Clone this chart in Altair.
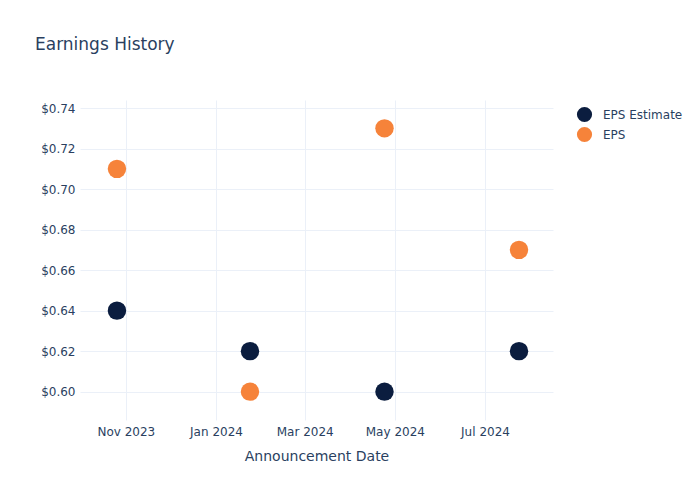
import altair as alt
import pandas as pd

dates = ["2023-10-26", "2024-01-24", "2024-04-24", "2024-07-24"]
eps_estimate = [0.64, 0.62, 0.60, 0.62]
eps_actual = [0.71, 0.60, 0.73, 0.67]
series_names = ["EPS Estimate", "EPS"]
series_colors = ["#0b1d3f", "#f6833a"]
y_ticks = [0.60, 0.62, 0.64, 0.66, 0.68, 0.70, 0.72, 0.74]

df = pd.DataFrame(
    {
        "date": dates * 2,
        "value": eps_estimate + eps_actual,
        "series": [series_names[0]] * len(dates) + [series_names[1]] * len(dates),
    }
)

FONT = "DejaVu Sans"
TXT = "#2a3f5f"

chart = (
    alt.Chart(df)
    .mark_circle(size=340, opacity=1)
    .encode(
        x=alt.X(
            "date:T",
            title="Announcement Date",
            scale=alt.Scale(
                type="utc",
                domain=[
                    alt.DateTime(year=2023, month=10, date=1, utc=True),
                    alt.DateTime(year=2024, month=8, date=16, utc=True),
                ],
                nice=False,
            ),
            axis=alt.Axis(
                labelExpr="utcFormat(datum.value, '%b %Y')",
                tickCount={"interval": "month", "step": 2},
                grid=True,
                gridColor="#ebf0f8",
                domain=False,
                ticks=False,
                labelPadding=6,
                labelFont=FONT,
                labelFontSize=12,
                labelColor=TXT,
                titleFont=FONT,
                titleFontSize=14,
                titleFontWeight="normal",
                titleColor=TXT,
                titlePadding=12,
            ),
        ),
        y=alt.Y(
            "value:Q",
            title=None,
            scale=alt.Scale(domain=[0.586, 0.744], nice=False, zero=False),
            axis=alt.Axis(
                values=y_ticks,
                format="$.2f",
                grid=True,
                gridColor="#ebf0f8",
                domain=False,
                ticks=False,
                labelPadding=5,
                labelFont=FONT,
                labelFontSize=12,
                labelColor=TXT,
            ),
        ),
        color=alt.Color(
            "series:N",
            scale=alt.Scale(domain=series_names, range=series_colors),
            legend=alt.Legend(
                title=None,
                orient="none",
                legendX=496,
                legendY=6,
                symbolType="circle",
                symbolSize=230,
                symbolOpacity=1,
                labelFont=FONT,
                labelFontSize=12,
                labelColor=TXT,
                rowPadding=3,
                labelOffset=10,
            ),
        ),
    )
    .properties(
        width=473,
        height=320,
        autosize=alt.AutoSizeParams(type="none"),
        padding={"left": 80, "top": 100, "right": 147, "bottom": 80},
        title=alt.TitleParams(
            "Earnings History",
            anchor="start",
            frame="group",
            dx=-45,
            offset=46,
            font=FONT,
            fontSize=17,
            fontWeight="normal",
            color=TXT,
        ),
        background="white",
    )
    .configure_view(stroke=None)
)

chart.save("out.html", embed_options={"renderer": "svg", "actions": False})
